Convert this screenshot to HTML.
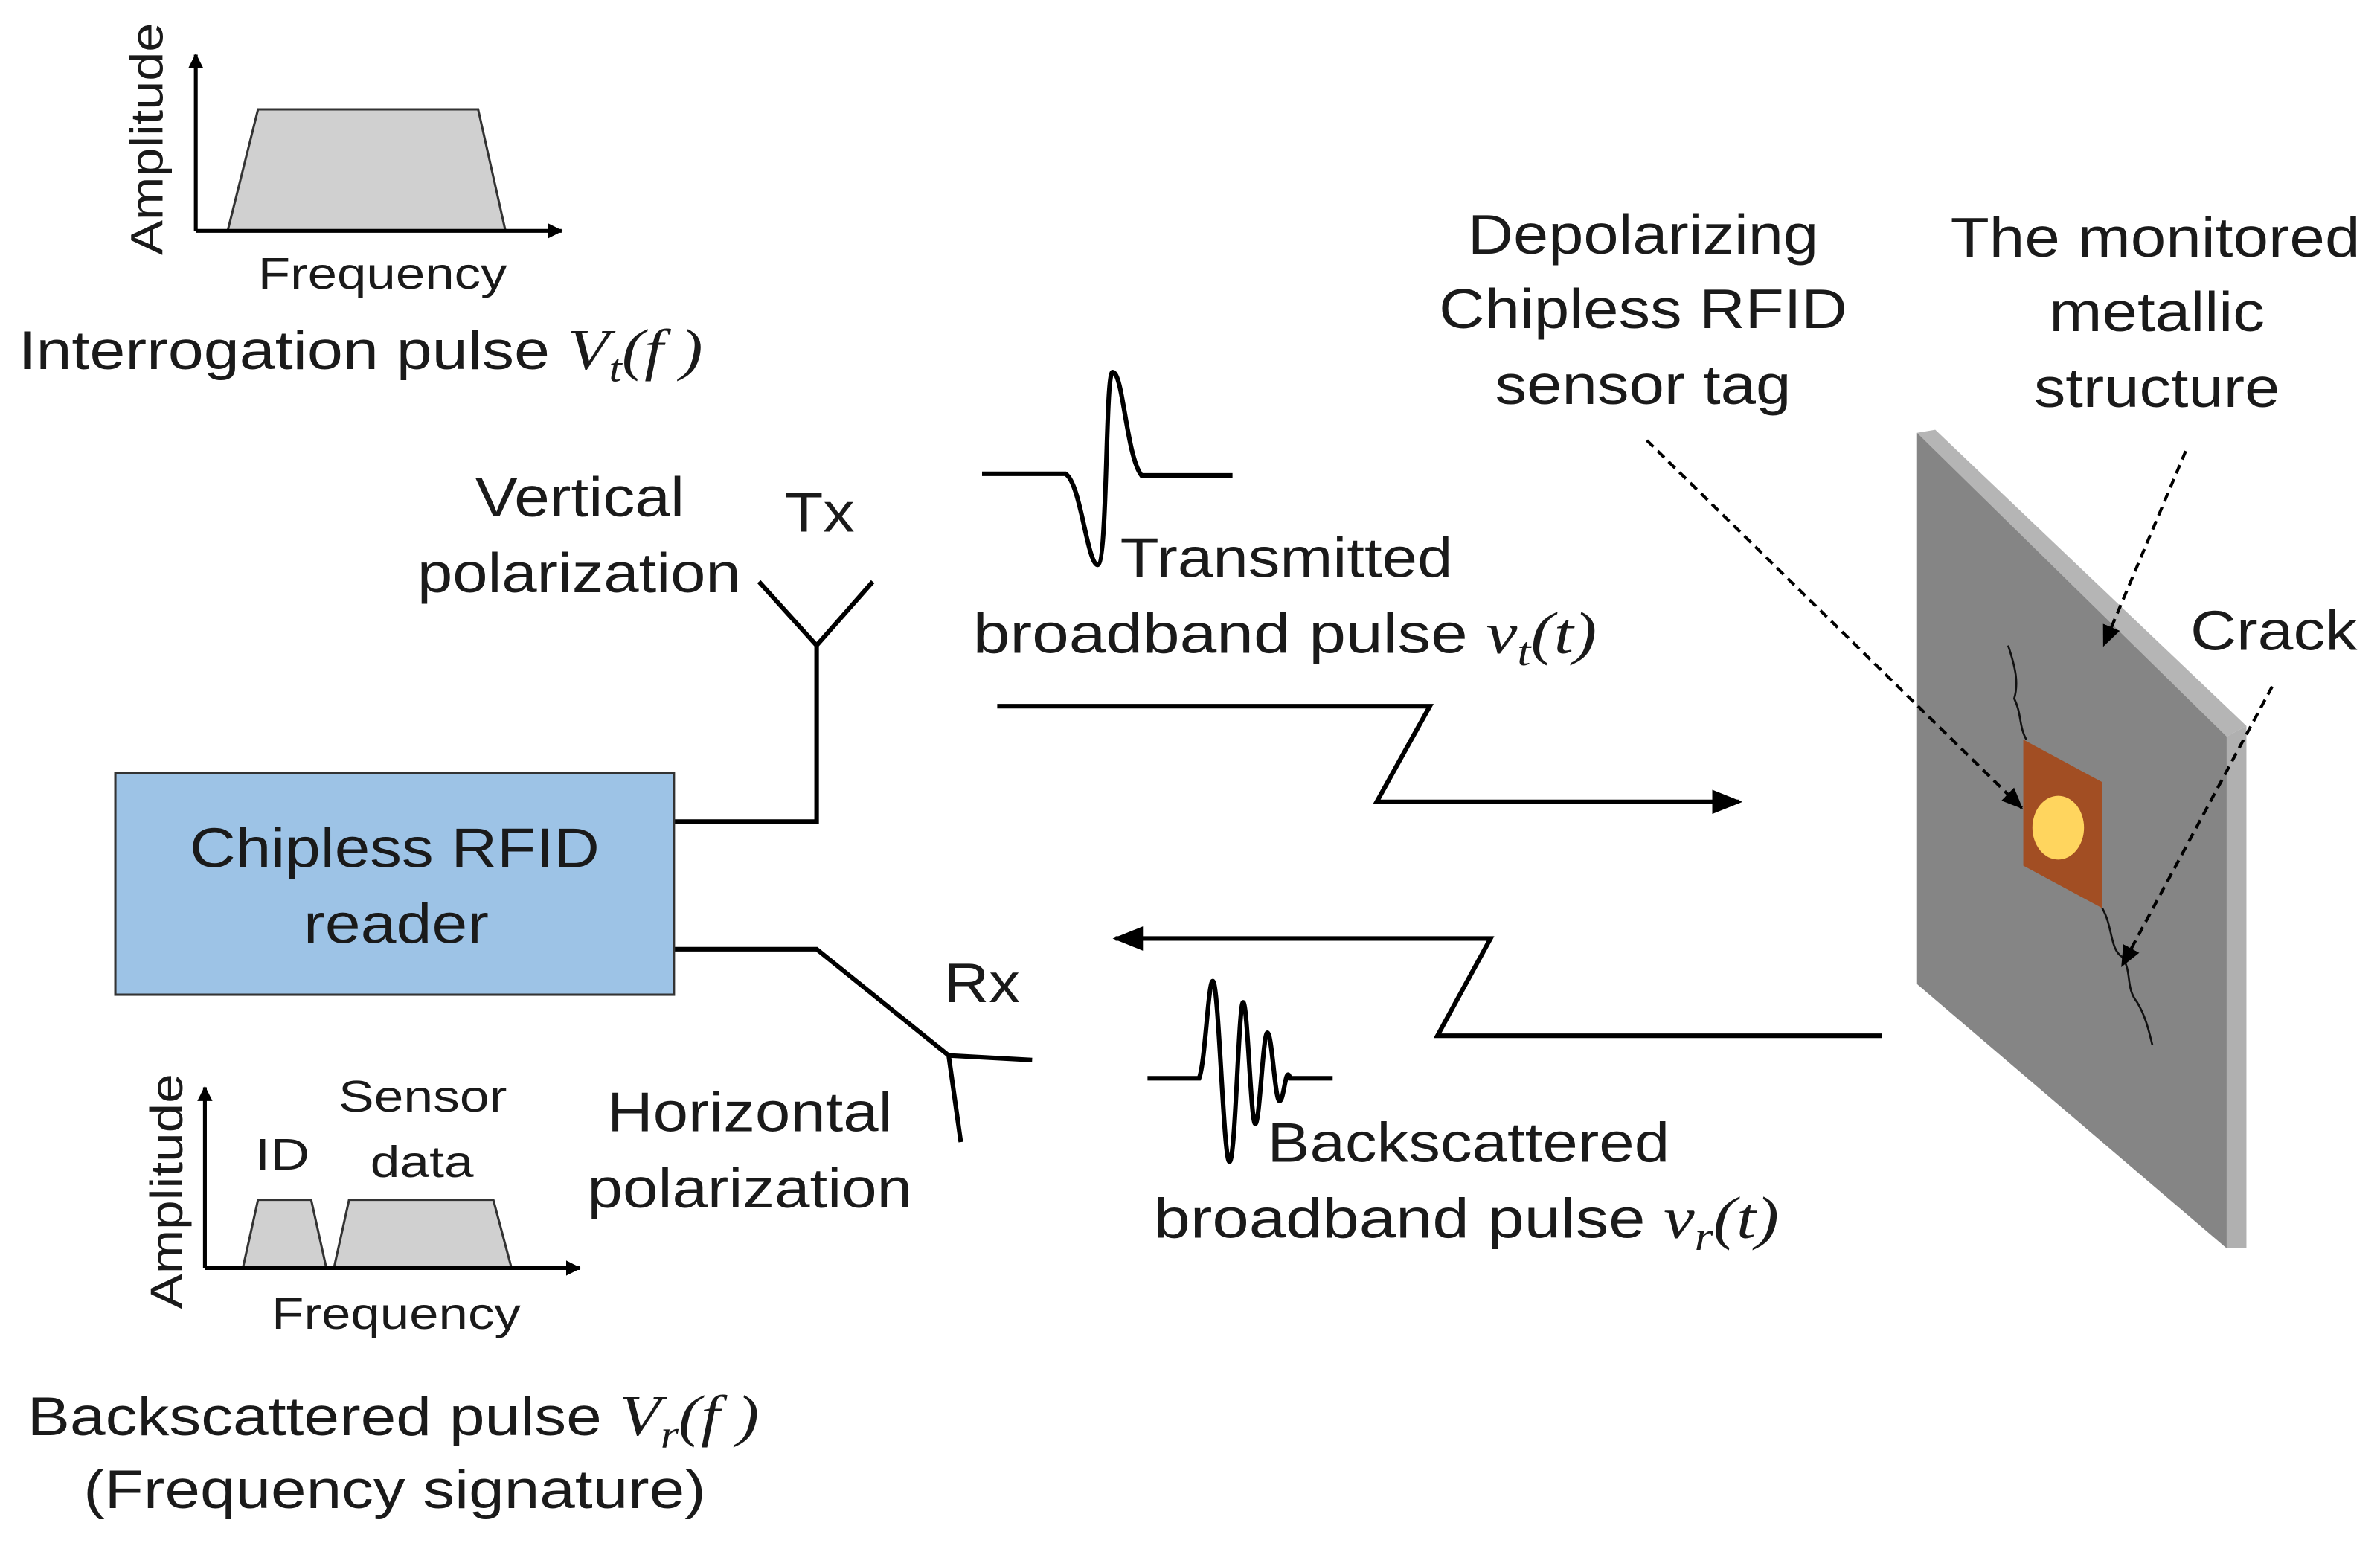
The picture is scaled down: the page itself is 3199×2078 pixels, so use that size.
<!DOCTYPE html>
<html><head><meta charset="utf-8"><style>
html,body{margin:0;padding:0;background:#fff}
svg{display:block}
text{font-family:"Liberation Sans",sans-serif;fill:#1a1a1a}
.m{font-family:"Liberation Serif",serif;font-style:italic}
</style></head><body>
<svg width="3199" height="2078" viewBox="0 0 1568 1018" preserveAspectRatio="none" xmlns="http://www.w3.org/2000/svg">
<defs>
<marker id="ah" markerWidth="10" markerHeight="10" refX="9" refY="5" orient="auto" markerUnits="userSpaceOnUse"><path d="M0,0 L10,5 L0,10 z" fill="#000"/></marker>
<marker id="big" markerWidth="20" markerHeight="16" refX="18" refY="8" orient="auto" markerUnits="userSpaceOnUse"><path d="M0,0 L20,8 L0,16 z" fill="#000"/></marker>
<marker id="da" markerWidth="14" markerHeight="12" refX="13" refY="6" orient="auto" markerUnits="userSpaceOnUse"><path d="M0,0 L14,6 L0,12 z" fill="#000"/></marker>
</defs>
<g stroke="#000" stroke-width="2.5" fill="none">
<polygon points="150,152 170,72 315,72 333,152" fill="#d0d0d0" stroke="#333" stroke-width="1.5"/>
<line x1="129" y1="152" x2="129" y2="36" marker-end="url(#ah)"/>
<line x1="129" y1="152" x2="370" y2="152" marker-end="url(#ah)"/>
<polygon points="160,835 170,790 205,790 215,835" fill="#d0d0d0" stroke="#333" stroke-width="1.5"/>
<polygon points="220,835 230,790 325,790 337,835" fill="#d0d0d0" stroke="#333" stroke-width="1.5"/>
<line x1="135" y1="835" x2="135" y2="716" marker-end="url(#ah)"/>
<line x1="135" y1="835" x2="382" y2="835" marker-end="url(#ah)"/>
<polyline points="500,383 538,425 575,383" stroke-width="3"/>
<polyline points="538,425 538,541 444,541" stroke-width="3"/>
<polyline points="444,625 538,625 625,695" stroke-width="3"/>
<polyline points="680,698 625,695 633,752" stroke-width="3"/>
<path d="M647,312 L702,312 C712,318 716,370 723,372 C730,372 728,245 733,245 C740,245 742,300 752,313 L812,313" stroke-width="3"/>
<path d="M756,710 L790,710 C794,700 796,646 799,646 C803,646 806,765 810,765 C814,765 816,660 819,660 C822,660 824,740 827,740 C830,740 832,680 835,680 C838,680 840,725 843,725 C846,725 847,700 850,710 L878,710" stroke-width="3"/>
<polyline points="657,465 942,465 907,528 1146,528" stroke-width="3" marker-end="url(#big)"/>
<polyline points="1240,682 947,682 982,618 735,618" stroke-width="3" marker-end="url(#big)"/>
</g>
<rect x="76" y="509" width="368" height="146" fill="#9dc3e6" stroke="#333" stroke-width="1.5"/>
<text x="125" y="571" font-size="37" textLength="270" lengthAdjust="spacingAndGlyphs">Chipless RFID</text>
<text x="200" y="621" font-size="37" textLength="122" lengthAdjust="spacingAndGlyphs">reader</text>
<polygon points="1263,285 1275,283 1480,478 1467,485" fill="#b5b5b5"/>
<polygon points="1467,485 1480,478 1480,822 1467,822" fill="#b0b0b0"/>
<polygon points="1263,285 1467,485 1467,822 1263,648" fill="#858585"/>
<polygon points="1333,487 1385,515 1385,598 1333,570" fill="#a24e23"/>
<ellipse cx="1356" cy="545" rx="17" ry="21" fill="#ffd55e"/>
<path d="M1323,425 C1328,440 1330,450 1327,460 C1332,470 1330,478 1335,487" stroke="#111" stroke-width="1.3" fill="none"/>
<path d="M1385,598 C1392,610 1390,625 1398,630 C1405,640 1400,650 1408,660 C1414,670 1416,680 1418,688" stroke="#111" stroke-width="1.3" fill="none"/>
<g stroke="#000" stroke-width="2" stroke-dasharray="6,4" fill="none">
<line x1="1085" y1="290" x2="1332" y2="532" marker-end="url(#da)"/>
<line x1="1440" y1="297" x2="1386" y2="425" marker-end="url(#da)"/>
<line x1="1497" y1="452" x2="1398" y2="636" marker-end="url(#da)"/>
</g>
<text transform="translate(107,168) rotate(-90)" font-size="30" textLength="153" lengthAdjust="spacingAndGlyphs">Amplitude</text>
<text x="170" y="190" font-size="29" textLength="164" lengthAdjust="spacingAndGlyphs">Frequency</text>
<text x="12" y="243" font-size="36" textLength="451" lengthAdjust="spacingAndGlyphs">Interrogation pulse <tspan class="m" font-size="38">V</tspan><tspan class="m" font-size="26" dy="8">t</tspan><tspan class="m" font-size="38" dy="-8">(f )</tspan></text>
<text x="967" y="167" font-size="37" textLength="231" lengthAdjust="spacingAndGlyphs">Depolarizing</text>
<text x="948" y="216" font-size="37" textLength="269" lengthAdjust="spacingAndGlyphs">Chipless RFID</text>
<text x="985" y="266" font-size="37" textLength="195" lengthAdjust="spacingAndGlyphs">sensor tag</text>
<text x="1285" y="169" font-size="37" textLength="270" lengthAdjust="spacingAndGlyphs">The monitored</text>
<text x="1350" y="218" font-size="37" textLength="142" lengthAdjust="spacingAndGlyphs">metallic</text>
<text x="1340" y="268" font-size="37" textLength="162" lengthAdjust="spacingAndGlyphs">structure</text>
<text x="1443" y="428" font-size="37" textLength="110" lengthAdjust="spacingAndGlyphs">Crack</text>
<text x="313" y="340" font-size="37" textLength="138" lengthAdjust="spacingAndGlyphs">Vertical</text>
<text x="275" y="390" font-size="37" textLength="213" lengthAdjust="spacingAndGlyphs">polarization</text>
<text x="517" y="350" font-size="37" textLength="46" lengthAdjust="spacingAndGlyphs">Tx</text>
<text x="738" y="380" font-size="37" textLength="219" lengthAdjust="spacingAndGlyphs">Transmitted</text>
<text x="641" y="430" font-size="37" textLength="411" lengthAdjust="spacingAndGlyphs">broadband pulse <tspan class="m" font-size="39">v</tspan><tspan class="m" font-size="27" dy="8">t</tspan><tspan class="m" font-size="39" dy="-8">(t)</tspan></text>
<text x="622" y="660" font-size="37" textLength="50" lengthAdjust="spacingAndGlyphs">Rx</text>
<text x="400" y="745" font-size="37" textLength="188" lengthAdjust="spacingAndGlyphs">Horizontal</text>
<text x="387" y="795" font-size="37" textLength="214" lengthAdjust="spacingAndGlyphs">polarization</text>
<text x="835" y="765" font-size="37" textLength="265" lengthAdjust="spacingAndGlyphs">Backscattered</text>
<text x="760" y="815" font-size="37" textLength="412" lengthAdjust="spacingAndGlyphs">broadband pulse <tspan class="m" font-size="39">v</tspan><tspan class="m" font-size="27" dy="8">r</tspan><tspan class="m" font-size="39" dy="-8">(t)</tspan></text>
<text transform="translate(120,862) rotate(-90)" font-size="30" textLength="155" lengthAdjust="spacingAndGlyphs">Amplitude</text>
<text x="168" y="770" font-size="29" textLength="36" lengthAdjust="spacingAndGlyphs">ID</text>
<text x="223" y="732" font-size="29" textLength="111" lengthAdjust="spacingAndGlyphs">Sensor</text>
<text x="244" y="775" font-size="29" textLength="68" lengthAdjust="spacingAndGlyphs">data</text>
<text x="179" y="875" font-size="29" textLength="164" lengthAdjust="spacingAndGlyphs">Frequency</text>
<text x="18" y="945" font-size="36" textLength="482" lengthAdjust="spacingAndGlyphs">Backscattered pulse <tspan class="m" font-size="38">V</tspan><tspan class="m" font-size="26" dy="8">r</tspan><tspan class="m" font-size="38" dy="-8">(f )</tspan></text>
<text x="55" y="993" font-size="36" textLength="410" lengthAdjust="spacingAndGlyphs">(Frequency signature)</text>
</svg>
</body></html>
